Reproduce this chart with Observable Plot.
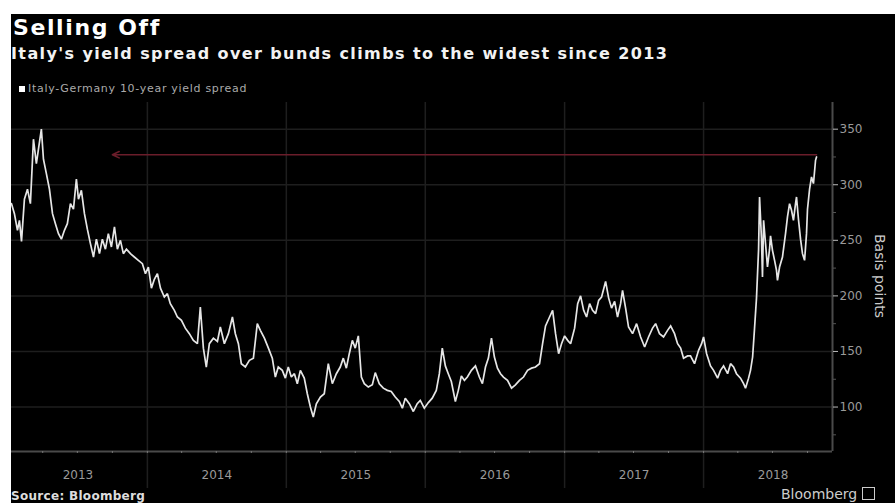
<!DOCTYPE html>
<html>
<head>
<meta charset="utf-8">
<script src="https://cdn.jsdelivr.net/npm/d3@7"></script>
<script src="https://cdn.jsdelivr.net/npm/@observablehq/plot@0.6"></script>
<style>
  html, body { margin: 0; padding: 0; background: #fff; width: 895px; height: 503px; overflow: hidden; }
  #panel { position: absolute; left: 11px; top: 14px; width: 884px; height: 489px; background: #000; overflow: hidden; }
  .abs { position: absolute; white-space: nowrap; line-height: 1; font-family: "DejaVu Sans", sans-serif; }
  #title { left: 2px; top: 3px; font-size: 22px; font-weight: bold; color: #fff; letter-spacing: 1.6px; }
  #subtitle { left: 0px; top: 32px; font-size: 16px; font-weight: bold; color: #f2f2f2; letter-spacing: 1.4px; }
  #legend { left: 8px; top: 69px; font-size: 11px; color: #aaa; letter-spacing: 0.7px; }
  #legend .sw { display: inline-block; width: 6px; height: 6px; background: #fff; margin-right: 3px; vertical-align: 0px; }
  #ylabel { left: 869px; top: 262px; font-size: 14px; color: #ccc; transform-origin: center; transform: translate(-50%, -50%) rotate(90deg); }
  #source { left: 0px; top: 476px; font-size: 12px; font-weight: bold; color: #ddd; letter-spacing: 0.3px; }
  #brand { left: 770px; top: 473px; font-size: 14px; color: #ccc; }
  #brand .box { display: inline-block; width: 11px; height: 11px; border: 1px solid #ccc; margin-left: 5px; vertical-align: -1px; }
  #chart { position: absolute; left: 0px; top: 81px; }
</style>
</head>
<body>
<div id="panel">
  <div id="title" class="abs"></div>
  <div id="subtitle" class="abs"></div>
  <div id="legend" class="abs"><span class="sw"></span><span id="legendText"></span></div>
  <div id="ylabel" class="abs"></div>
  <div id="source" class="abs"></div>
  <div id="brand" class="abs"><span id="brandText"></span><span class="box"></span></div>
  <div id="chart"></div>
</div>
<script>
// ---- text ----
const title = "Selling Off";
const subtitle = "Italy's yield spread over bunds climbs to the widest since 2013";
const legendLabel = "Italy-Germany 10-year yield spread";
const yLabel = "Basis points";
const sourceText = "Source: Bloomberg";
const brandText = "Bloomberg";

// ---- axes ----
const yearLabels = ["2013", "2014", "2015", "2016", "2017", "2018"];
const yTicks = [100, 150, 200, 250, 300, 350];
const yMinorTicks = [75, 125, 175, 225, 275, 325, 375];
const yExtent = [60, 374];
const xExtent = [2013.022, 2018.928]; // decimal years

// ---- data: dates as decimal years, spread in basis points ----
const dates = [
  2013.022,2013.043,2013.065,2013.079,2013.094,2013.115,2013.137,2013.158,2013.180,2013.201,
  2013.216,2013.237,2013.252,2013.273,2013.295,2013.317,2013.338,2013.360,2013.381,2013.403,
  2013.424,2013.446,2013.468,2013.489,2013.504,2013.525,2013.547,2013.568,2013.590,2013.612,
  2013.633,2013.655,2013.676,2013.698,2013.719,2013.741,2013.763,2013.784,2013.806,2013.827,
  2013.849,2013.878,2013.906,2013.935,2013.964,2013.986,
  2014.007,2014.029,2014.050,2014.072,2014.094,2014.122,2014.144,2014.165,2014.194,2014.216,
  2014.245,2014.273,2014.302,2014.331,2014.360,2014.381,2014.403,2014.424,2014.446,2014.475,
  2014.504,2014.525,2014.554,2014.583,2014.612,2014.633,2014.655,2014.676,2014.705,2014.734,
  2014.763,2014.791,2014.813,2014.842,2014.871,2014.899,2014.921,2014.942,2014.971,2014.993,
  2015.014,2015.036,2015.058,2015.079,2015.101,2015.129,2015.151,2015.173,2015.194,2015.216,
  2015.245,2015.273,2015.302,2015.331,2015.360,2015.388,2015.410,2015.432,2015.453,2015.475,
  2015.496,2015.518,2015.540,2015.561,2015.590,2015.619,2015.640,2015.669,2015.698,2015.727,
  2015.755,2015.784,2015.813,2015.835,2015.856,2015.885,2015.914,2015.942,2015.964,2015.993,
  2016.022,2016.050,2016.079,2016.101,2016.122,2016.144,2016.165,2016.187,2016.216,2016.237,
  2016.259,2016.281,2016.302,2016.331,2016.360,2016.388,2016.410,2016.432,2016.453,2016.475,
  2016.496,2016.518,2016.540,2016.561,2016.590,2016.619,2016.647,2016.676,2016.705,2016.734,
  2016.763,2016.791,2016.820,2016.842,2016.863,2016.892,2016.914,2016.935,2016.957,2016.978,
  2017.000,2017.022,2017.043,2017.072,2017.094,2017.115,2017.137,2017.158,2017.180,2017.201,
  2017.223,2017.245,2017.266,2017.295,2017.317,2017.338,2017.360,2017.381,2017.403,2017.417,
  2017.439,2017.460,2017.489,2017.518,2017.547,2017.576,2017.604,2017.633,2017.655,2017.683,
  2017.712,2017.741,2017.763,2017.791,2017.813,2017.835,2017.856,2017.885,2017.906,2017.935,
  2017.964,2017.986,
  2018.000,2018.022,2018.050,2018.072,2018.101,2018.122,2018.144,2018.173,2018.194,2018.216,
  2018.237,2018.266,2018.288,2018.302,2018.324,2018.338,2018.353,2018.367,2018.381,2018.396,
  2018.403,2018.417,2018.424,2018.432,2018.446,2018.460,2018.475,2018.482,2018.496,2018.511,
  2018.525,2018.532,2018.547,2018.568,2018.590,2018.604,2018.619,2018.633,2018.647,2018.662,
  2018.669,2018.683,2018.698,2018.712,2018.727,2018.741,2018.748,2018.763,2018.777,2018.791,
  2018.806,2018.813
];
const spread = [
  283,274,259,268,249,287,296,283,341,319,
  332,350,323,310,296,274,265,256,251,259,
  265,283,278,305,287,295,274,260,247,235,
  251,238,251,242,256,244,262,242,250,238,
  242,238,235,232,229,220,
  226,207,215,220,207,199,202,193,187,181,
  178,171,166,160,157,190,153,136,157,162,
  159,172,157,166,181,166,157,139,136,142,
  144,175,169,162,153,144,127,136,133,126,
  136,127,130,121,133,126,112,100,91,103,
  109,112,139,121,130,136,144,135,148,160,
  153,164,127,121,118,120,131,121,117,115,
  114,109,105,99,108,103,96,103,106,99,
  104,108,115,130,153,137,130,123,105,115,
  128,124,127,133,137,127,121,136,144,162,
  145,135,130,127,124,117,120,124,127,133,
  135,136,139,157,173,181,187,166,148,157,
  164,160,157,171,193,200,187,181,193,187,
  184,196,199,213,198,189,195,181,193,205,
  189,172,166,175,163,154,163,171,175,166,
  163,169,173,166,157,153,144,146,146,139,
  151,157,
  163,148,137,133,126,133,137,130,139,136,
  130,126,121,117,126,133,145,171,198,242,
  289,251,217,268,247,226,242,254,241,232,
  223,214,226,235,256,271,283,277,268,283,
  289,269,251,238,232,256,278,296,307,301,
  322,325
];
// annotation arrow: from latest reading back to the 2013 level
const arrowLevel = 327;
const arrowTarget = 2013.748;

// ---- helpers ----
function toDate(d) {
  const y = Math.floor(d);
  const a = Date.UTC(y, 0, 1), b = Date.UTC(y + 1, 0, 1);
  return new Date(a + (d - y) * (b - a));
}
const data = dates.map((d, i) => ({date: toDate(d), value: spread[i]}));
const xDomain = xExtent.map(toDate);
const yearStarts = yearLabels.slice(1).map(y => new Date(Date.UTC(+y, 0, 1)));
const quarterStarts = d3.utcMonth.every(3).range(xDomain[0], xDomain[1]);
const last = data[data.length - 1];

document.getElementById("title").textContent = title;
document.getElementById("subtitle").textContent = subtitle;
document.getElementById("legendText").textContent = legendLabel;
document.getElementById("ylabel").textContent = yLabel;
document.getElementById("source").textContent = sourceText;
document.getElementById("brandText").textContent = brandText;

const chart = Plot.plot({
  width: 884,
  height: 400,
  marginLeft: 0,
  marginRight: 63,
  marginTop: 7,
  marginBottom: 44,
  style: {background: "transparent", color: "#9a9a9a", fontFamily: "DejaVu Sans, sans-serif", fontSize: "12px", overflow: "visible"},
  x: {type: "utc", domain: xDomain},
  y: {domain: yExtent},
  marks: [
    Plot.gridY(yTicks, {stroke: "#1e1e1e", strokeOpacity: 1, strokeWidth: 1.5}),
    Plot.ruleX(yearStarts, {stroke: "#1e1e1e", strokeWidth: 1.5, insetBottom: -37}),
    Plot.ruleY([yExtent[0]], {stroke: "#4a4a4a", strokeWidth: 2}),
    Plot.ruleX([xDomain[1]], {stroke: "#4a4a4a", strokeWidth: 2}),
    Plot.axisX(quarterStarts, {anchor: "bottom", tickSize: 2, tickPadding: 0, tickFormat: () => "", stroke: "#777", label: null}),
    Plot.axisY(yMinorTicks.filter(v => v < yExtent[1]), {anchor: "right", tickSize: 3, tickFormat: () => "", stroke: "#555", label: null}),
    Plot.axisY(yTicks, {anchor: "right", tickSize: 5, tickPadding: 2, stroke: "#bbb", fill: "#9a9a9a", fontSize: 12, label: null}),
    Plot.text(yearLabels, {x: d => toDate(+d + 0.5), frameAnchor: "bottom", dy: 27, text: d => d, fill: "#9a9a9a", fontSize: 12}),
    Plot.arrow([{x1: last.date, x2: toDate(arrowTarget), y: arrowLevel}], {
      x1: "x1", x2: "x2", y1: "y", y2: "y", stroke: "#6a1d2a", strokeWidth: 1.6, headLength: 7, headAngle: 50
    }),
    Plot.line(data, {x: "date", y: "value", stroke: "#e6e6e6", strokeWidth: 1.7, strokeLinejoin: "miter", strokeMiterlimit: 2})
  ]
});
document.getElementById("chart").appendChild(chart);
</script>
</body>
</html>
